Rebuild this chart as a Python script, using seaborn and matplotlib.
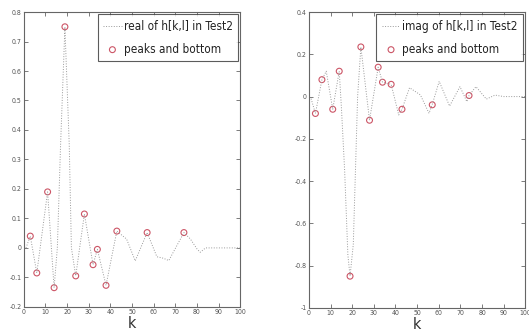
import matplotlib
matplotlib.use("Agg")
import matplotlib.pyplot as plt
import seaborn as sns
import pandas as pd

# ---- data: real part ----
real_k = [1, 3, 6, 11, 14, 15.5, 17, 19, 21, 22, 24, 28, 32, 34, 38, 43, 47.5, 51.5,
          57, 61.5, 64.5, 67, 74, 77, 80, 81.5, 84, 100]
real_v = [0.0, 0.04, -0.085, 0.19, -0.135, 0.0, 0.35, 0.75, 0.35, 0.0, -0.095, 0.115,
          -0.057, -0.005, -0.127, 0.057, 0.03, -0.044, 0.052, -0.03, -0.035, -0.043,
          0.052, 0.03, -0.003, -0.015, 0.0, 0.0]
real_pk_k = [3, 6, 11, 14, 19, 24, 28, 32, 34, 38, 43, 57, 74]
real_pk_v = [0.04, -0.085, 0.19, -0.135, 0.75, -0.095, 0.115, -0.057, -0.005, -0.127,
             0.057, 0.052, 0.052]

# ---- data: imaginary part ----
imag_k = [1, 3, 6, 8, 11, 14, 15, 16.5, 18, 19, 20.5, 21.5, 22.5, 24, 28, 32, 34, 38,
          41.5, 43, 46.5, 51.5, 55.5, 57, 60.2, 65, 69.8, 73, 74, 77.2, 82, 86, 90, 100]
imag_v = [-0.01, -0.08, 0.08, 0.12, -0.06, 0.12, -0.05, -0.35, -0.75, -0.85, -0.7, -0.35,
          0.0, 0.235, -0.112, 0.139, 0.068, 0.058, -0.087, -0.06, 0.042, 0.008, -0.079,
          -0.037, 0.072, -0.045, 0.047, -0.024, 0.005, 0.047, -0.012, 0.007, 0.0, 0.0]
imag_pk_k = [3, 6, 11, 14, 19, 24, 28, 32, 34, 38, 43, 57, 74]
imag_pk_v = [-0.08, 0.08, -0.06, 0.12, -0.85, 0.235, -0.112, 0.139, 0.068, 0.058,
             -0.06, -0.039, 0.005]

x_ticks = [0, 10, 20, 30, 40, 50, 60, 70, 80, 90, 100]
real_yticks = [-0.2, -0.1, 0, 0.1, 0.2, 0.3, 0.4, 0.5, 0.6, 0.7, 0.8]
imag_yticks = [-1, -0.8, -0.6, -0.4, -0.2, 0, 0.2, 0.4]

sns.set_theme(style="white")
plt.rcParams['font.family'] = ['DejaVu Sans']
plt.rcParams['font.stretch'] = 'condensed'

fig = plt.figure(figsize=(5.29, 3.35), dpi=100)
ax1 = fig.add_axes([0.045, 0.084, 0.409, 0.880])
ax2 = fig.add_axes([0.584, 0.081, 0.409, 0.883])

frame_col = '#666666'
line_col = '#999999'
mk_col = '#cc5566'

def draw(ax, k, v, pk, pv, label, yticks, ylim):
    df = pd.DataFrame({'k': k, 'v': v})
    dp = pd.DataFrame({'k': pk, 'v': pv})
    sns.lineplot(data=df, x='k', y='v', ax=ax, color=line_col, lw=0.7,
                 linestyle=':', label=label)
    sns.scatterplot(data=dp, x='k', y='v', ax=ax, s=18, facecolor='none',
                    edgecolor=mk_col, linewidth=0.8, marker='o',
                    label='peaks and bottom')
    ax.set_xlim(0, 100)
    ax.set_ylim(*ylim)
    ax.set_xticks(x_ticks)
    ax.set_xticklabels([str(t) for t in x_ticks])
    ax.set_yticks(yticks)
    ax.set_yticklabels([('%g' % t) for t in yticks])
    ax.tick_params(direction='in', length=3, width=0.6, colors=frame_col,
                   labelsize=5, labelcolor='#555555', top=True, right=True,
                   bottom=True, left=True, pad=1.5)
    for s in ax.spines.values():
        s.set_color(frame_col)
        s.set_linewidth(0.8)
    ax.set_xlabel('k', fontsize=11.5, color='#333333', labelpad=0.5)
    ax.set_ylabel('')
    leg = ax.legend(loc='upper right', fontsize=8.5, frameon=True, fancybox=False,
                    borderpad=0.45, handlelength=1.6, handletextpad=0.15,
                    labelspacing=0.85, borderaxespad=0.2)
    leg.get_frame().set_edgecolor('#333333')
    leg.get_frame().set_linewidth(0.8)
    for t in leg.get_texts():
        t.set_color('#222222')

draw(ax1, real_k, real_v, real_pk_k, real_pk_v, 'real of h[k,l] in Test2',
     real_yticks, (-0.2, 0.8))
draw(ax2, imag_k, imag_v, imag_pk_k, imag_pk_v, 'imag of h[k,l] in Test2',
     imag_yticks, (-1, 0.4))

fig.savefig('out.png', dpi=100)
